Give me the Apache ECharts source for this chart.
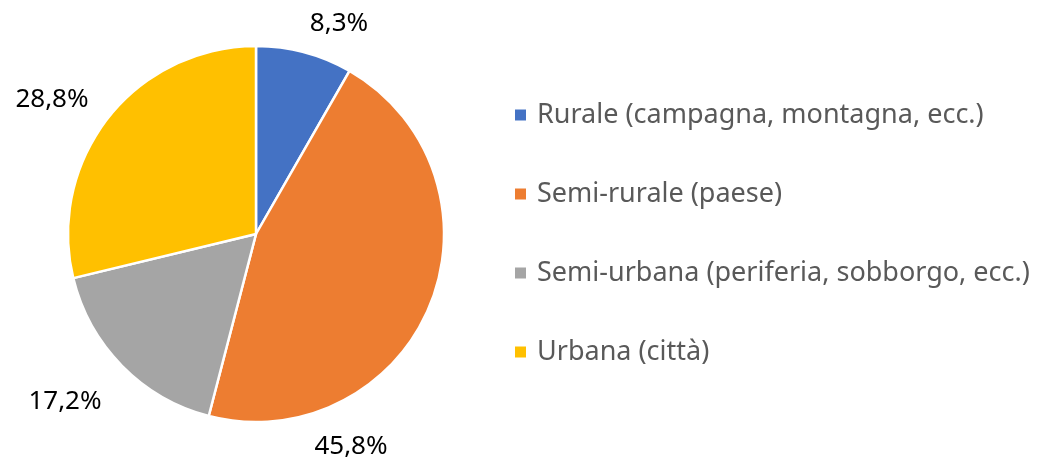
<!DOCTYPE html>
<html>
<head>
<meta charset="utf-8">
<script src="https://cdn.jsdelivr.net/npm/echarts@6/dist/echarts.min.js"></script>
<style>
  html, body { margin: 0; padding: 0; background: #fff; }
  #chart { width: 1051px; height: 464px; }
</style>
</head>
<body>
<div id="chart"></div>
<script>
const categories = [
  'Rurale (campagna, montagna, ecc.)',
  'Semi-rurale (paese)',
  'Semi-urbana (periferia, sobborgo, ecc.)',
  'Urbana (città)'
]
const shares = [8.3, 45.8, 17.2, 28.8]
const colors = ['#4472C4', '#ED7D31', '#A5A5A5', '#FFC000']

// where Excel put each data label (centre of the text)
const labelSpots = [[339, 24], [351, 447], [65, 402], [52, 100]]

const font = '"Noto Sans", "Open Sans", sans-serif'

const chart = echarts.init(document.getElementById('chart'), null, { renderer: 'canvas' })
chart.setOption({
  animation: false,
  color: colors,
  legend: {
    orient: 'vertical',
    left: 513,
    top: 100,
    padding: 0,
    itemWidth: 13,
    itemHeight: 13,
    itemGap: 49,
    icon: 'rect',
    textStyle: {
      fontFamily: font,
      fontSize: 27,
      lineHeight: 30,
      color: '#595959',
      padding: [0, 0, 0, 5]
    },
    data: categories
  },
  series: [{
    type: 'pie',
    center: [256, 234],
    radius: 188,
    startAngle: 90,
    clockwise: true,
    avoidLabelOverlap: false,
    itemStyle: { borderColor: '#fff', borderWidth: 2.5 },
    label: {
      show: true,
      position: 'outside',
      fontFamily: font,
      fontSize: 26,
      color: '#000',
      formatter: p => p.value.toFixed(1).replace('.', ',') + '%'
    },
    labelLine: { show: false },
    labelLayout: p => ({
      x: labelSpots[p.dataIndex][0],
      y: labelSpots[p.dataIndex][1],
      align: 'center',
      verticalAlign: 'middle'
    }),
    emphasis: { disabled: true },
    data: categories.map((name, i) => ({ name, value: shares[i] }))
  }]
})
</script>
</body>
</html>
